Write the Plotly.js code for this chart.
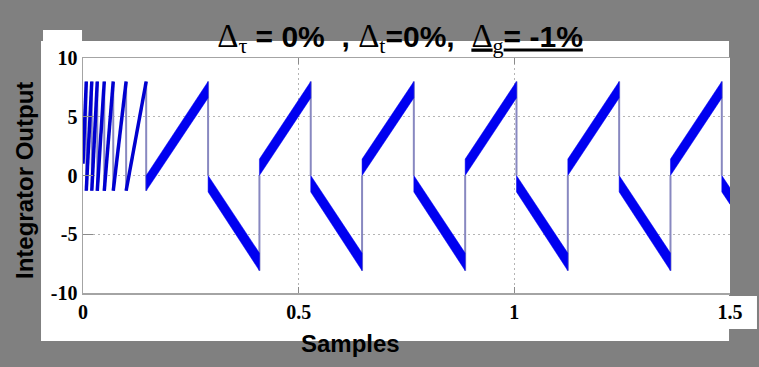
<!DOCTYPE html>
<html>
<head>
<meta charset="utf-8">
<script src="https://cdn.plot.ly/plotly-3.0.1.min.js"></script>
<style>html,body{margin:0;padding:0;background:#808080;}#chart{width:759px;height:367px;}</style>
</head>
<body>
<div id="chart"></div>
<script>
// ---- axis ticks ----
const xTickVals = [0, 0.5, 1, 1.5];
const xTickText = ["0", "0.5", "1", "1.5"];
const yTickVals = [-10, -5, 0, 5, 10];
const yTickText = ["-10", "-5", "0", "5", "10"];

// ---- start-up sawtooth: thin ramps (start -> end) ----
const earlyStartX = [0.000, 0.0076, 0.0204, 0.0331, 0.0493, 0.0701, 0.1000];
const earlyEndX   = [0.0076, 0.0204, 0.0331, 0.0493, 0.0701, 0.1000, 0.1465];
const earlyStartY = [1.0, -1.3, -1.3, -1.3, -1.3, -1.3, -1.3];
const earlyEndY   = [8.0, 8.0, 8.0, 8.0, 8.0, 8.0, 8.0];

// ---- steady state: thick band ramps (lower / upper edge at start and end) ----
const bandStartX  = [0.1465, 0.290, 0.409, 0.528, 0.647, 0.767, 0.886, 1.005, 1.124, 1.243, 1.362, 1.481];
const bandEndX    = [0.290, 0.409, 0.528, 0.647, 0.767, 0.886, 1.005, 1.124, 1.243, 1.362, 1.481, 1.500];
const bandLoStart = [-1.3, -1.4, 0.0, -1.4, 0.0, -1.4, 0.0, -1.4, 0.0, -1.4, 0.0, -1.4];
const bandLoEnd   = [6.6, -8.1, 6.6, -8.1, 6.6, -8.1, 6.6, -8.1, 6.6, -8.1, 6.6, -2.45];
const bandHiStart = [0.0, 0.0, 1.4, 0.0, 1.4, 0.0, 1.4, 0.0, 1.4, 0.0, 1.4, 0.0];
const bandHiEnd   = [8.0, -6.6, 8.0, -6.6, 8.0, -6.6, 8.0, -6.6, 8.0, -6.6, 8.0, -1.05];

// ---- vertical transitions (thin lines) ----
const jumpX    = [0.0076, 0.0204, 0.0331, 0.0493, 0.0701, 0.1000, 0.1465, 0.290, 0.409, 0.528, 0.647, 0.767, 0.886, 1.005, 1.124, 1.243, 1.362, 1.481];
const jumpFrom = [8.0, 8.0, 8.0, 8.0, 8.0, 8.0, 8.0, 8.0, -8.1, 8.0, -8.1, 8.0, -8.1, 8.0, -8.1, 8.0, -8.1, 8.0];
const jumpTo   = [-1.3, -1.3, -1.3, -1.3, -1.3, -1.3, -1.3, 0.0, 0.0, 0.0, 0.0, 0.0, 0.0, 0.0, 0.0, 0.0, 0.0, 0.0];

// build traces from the arrays
const jx = [], jy = [];
jumpX.forEach((x, i) => { jx.push(x, x, null); jy.push(jumpFrom[i], jumpTo[i], null); });

const ex = [], ey = [];
earlyStartX.forEach((x, i) => { ex.push(x, earlyEndX[i], null); ey.push(earlyStartY[i], earlyEndY[i], null); });

const bx = [], by = [];
bandStartX.forEach((x, i) => {
  bx.push(x, bandEndX[i], bandEndX[i], x, x, null);
  by.push(bandLoStart[i], bandLoEnd[i], bandHiEnd[i], bandHiStart[i], bandLoStart[i], null);
});

const traces = [
  {x: jx, y: jy, type: 'scatter', mode: 'lines', line: {color: '#8888c0', width: 2}, hoverinfo: 'skip', showlegend: false},
  {x: ex, y: ey, type: 'scatter', mode: 'lines', line: {color: '#0000d0', width: 3.5}, hoverinfo: 'skip', showlegend: false},
  {x: bx, y: by, type: 'scatter', mode: 'lines', fill: 'toself', fillcolor: '#0000f0', line: {color: '#0000f0', width: 0.5}, hoverinfo: 'skip', showlegend: false}
];

const serif = 'Liberation Serif, Times New Roman, serif';
const sans = 'Liberation Sans, Arial, sans-serif';
const D = '<span style="font-family:Liberation Serif;font-weight:normal;font-size:33px">Δ</span>';
const sub = s => '<sub><span style="font-family:Liberation Serif;font-weight:normal;font-size:22px">' + s + '</span></sub>';

const layout = {
  width: 759, height: 367,
  paper_bgcolor: '#808080', plot_bgcolor: '#ffffff',
  margin: {l: 83, r: 29, t: 58, b: 74, pad: 0},
  showlegend: false,
  title: {
    text: D + sub('τ') + ' = 0%  , ' + D + sub('t') + '=0%,  <u>' + D + sub('g') + '= -1%</u>',
    font: {family: sans, size: 30, color: '#000', weight: 'bold'},
    x: 400 / 759, xanchor: 'center', xref: 'container',
    y: 1 - 36 / 367, yanchor: 'middle', yref: 'container'
  },
  xaxis: {
    range: [0, 1.5], tickvals: xTickVals, ticktext: xTickText,
    tickfont: {family: serif, size: 20, color: '#000', weight: 'bold'},
    ticks: 'inside', ticklen: 6, tickcolor: '#8a8a8a', tickwidth: 1,
    showline: true, linecolor: '#a4a4a4', linewidth: 1.5, mirror: 'ticks',
    showgrid: true, gridcolor: '#b4b4b4', griddash: '2px,3px', gridwidth: 1.2,
    zeroline: false, fixedrange: true
  },
  yaxis: {
    range: [-10, 10], tickvals: yTickVals, ticktext: yTickText,
    tickfont: {family: serif, size: 20, color: '#000', weight: 'bold'},
    ticks: 'inside', ticklen: 10, tickcolor: '#8a8a8a', tickwidth: 1,
    showline: true, linecolor: '#a4a4a4', linewidth: 1.5, mirror: false,
    showgrid: true, gridcolor: '#b4b4b4', griddash: '2px,3px', gridwidth: 1.2,
    zeroline: false, fixedrange: true
  },
  shapes: [
    {type: 'rect', xref: 'paper', yref: 'paper', x0: -0.0649, x1: 0.9985, y0: -0.2043, y1: 1.0723, fillcolor: '#ffffff', line: {width: 0}, layer: 'below'},
    {type: 'rect', xref: 'paper', yref: 'paper', x0: -0.0618, x1: -0.0015, y0: 1.07, y1: 1.1191, fillcolor: '#ffffff', line: {width: 0}, layer: 'below'},
    {type: 'rect', xref: 'paper', yref: 'paper', x0: 0.998, x1: 1.0417, y0: -0.1532, y1: -0.0128, fillcolor: '#ffffff', line: {width: 0}, layer: 'below'}
  ],
  annotations: [
    {text: 'Integrator Output', xref: 'paper', yref: 'paper', x: (24 - 83) / 647, y: (293 - 181) / 235,
     xanchor: 'center', yanchor: 'middle', textangle: -90, showarrow: false,
     font: {family: sans, size: 24, color: '#000', weight: 'bold'}},
    {text: 'Samples', xref: 'paper', yref: 'paper', x: (350 - 83) / 647, y: (293 - 343) / 235,
     xanchor: 'center', yanchor: 'middle', showarrow: false,
     font: {family: sans, size: 24, color: '#000', weight: 'bold'}}
  ]
};

Plotly.newPlot('chart', traces, layout, {displayModeBar: false, staticPlot: true});
</script>
</body>
</html>
